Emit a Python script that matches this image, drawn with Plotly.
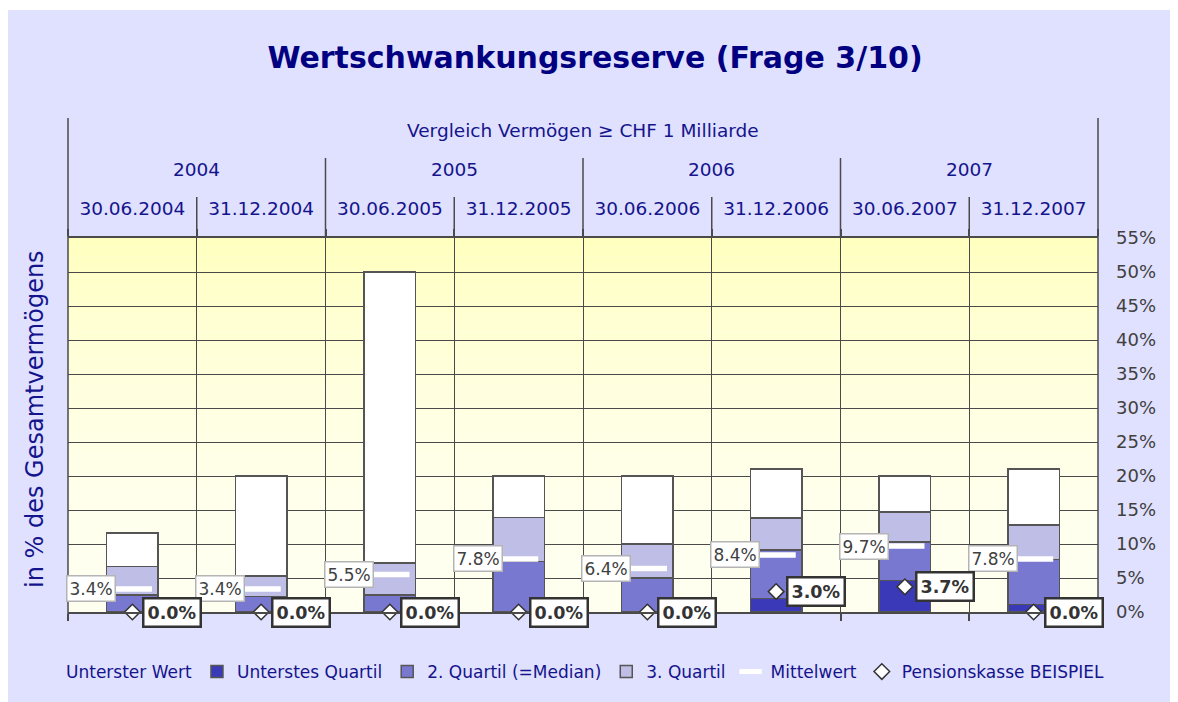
import plotly.graph_objects as go

# ---------------- data ----------------
categories = ["30.06.2004", "31.12.2004", "30.06.2005", "31.12.2005",
              "30.06.2006", "31.12.2006", "30.06.2007", "31.12.2007"]
years = ["2004", "2005", "2006", "2007"]
minimum = [0.0, 0.0, 0.0, 0.0, 0.0, 0.0, 0.0, 0.0]
q1 = [0.0, 0.0, 0.0, 0.0, 0.0, 2.0, 4.6, 1.1]
median = [2.5, 2.3, 2.5, 7.4, 5.0, 9.1, 10.3, 7.7]
q3 = [6.7, 5.3, 7.2, 13.9, 10.0, 13.8, 14.7, 12.8]
maximum = [11.6, 20.0, 50.0, 20.0, 20.0, 21.0, 20.0, 21.0]
mean = [3.4, 3.4, 5.5, 7.8, 6.4, 8.4, 9.7, 7.8]
beispiel = [0.0, 0.0, 0.0, 0.0, 0.0, 3.0, 3.7, 0.0]
y_tick_values = [0, 5, 10, 15, 20, 25, 30, 35, 40, 45, 50, 55]
y_tick_labels = ["0%", "5%", "10%", "15%", "20%", "25%", "30%", "35%", "40%", "45%", "50%", "55%"]

# ---------------- styles ----------------
OFF = 8                      # page body margin of the browser
W, H = 1178 - OFF, 702 - OFF
ML, MT = 68 - OFF, 238 - OFF
PW, PH = 1030, 374
MR, MB = W - ML - PW, H - MT - PH
FONT = "DejaVu Sans"
NAVY = "#14148C"
TITLE_NAVY = "#000080"
GRID = "#4a4a4a"
OUTLINE = "#555555"
LAVENDER = "#E0E0FF"

def py(ref_y):   # reference pixel y -> paper y
    return (612 - ref_y) / PH

def pxx(ref_x):  # reference pixel x -> paper x
    return (ref_x - 68) / PW

seg_q1 = [a - b for a, b in zip(q1, minimum)]
seg_med = [a - b for a, b in zip(median, q1)]
seg_q3 = [a - b for a, b in zip(q3, median)]
seg_top = [a - b for a, b in zip(maximum, q3)]

fig = go.Figure()
bar_w = 0.4
fig.add_trace(go.Bar(x=categories, y=minimum, name="Unterster Wert", width=bar_w,
                     marker=dict(color="rgba(0,0,0,0)", line=dict(width=0))))
fig.add_trace(go.Bar(x=categories, y=seg_q1, name="Unterstes Quartil", width=bar_w,
                     marker=dict(color="#3A3AB8", line=dict(color=OUTLINE, width=1.5))))
fig.add_trace(go.Bar(x=categories, y=seg_med, name="2. Quartil (=Median)", width=bar_w,
                     marker=dict(color="#7878D0", line=dict(color=OUTLINE, width=1.5))))
fig.add_trace(go.Bar(x=categories, y=seg_q3, name="3. Quartil", width=bar_w,
                     marker=dict(color="#BEBEE6", line=dict(color=OUTLINE, width=1.5))))
fig.add_trace(go.Bar(x=categories, y=seg_top, name="Oberstes Quartil", width=bar_w,
                     showlegend=False,
                     marker=dict(color="#FFFFFF", line=dict(color=OUTLINE, width=1.5))))
fig.add_trace(go.Scatter(x=categories, y=mean, name="Mittelwert", mode="markers",
                         marker=dict(symbol="line-ew", size=28,
                                     line=dict(color="#FFFFFF", width=5.5))))
fig.add_trace(go.Scatter(x=categories, y=beispiel, name="Pensionskasse BEISPIEL", mode="markers",
                         cliponaxis=False,
                         marker=dict(symbol="diamond", size=12, color="#FFFFFF",
                                     line=dict(color="#333333", width=1.5))))

annotations = []
for c, m in zip(categories, mean):
    annotations.append(dict(x=c, y=m, xref="x", yref="y", text=f"{m:.1f}%", showarrow=False,
                            xshift=-41, yanchor="middle",
                            font=dict(family=FONT, size=17, color="#404040"),
                            bgcolor="#FFFFFF", bordercolor="#B4B4B4", borderwidth=1.5, borderpad=2))
for c, b in zip(categories, beispiel):
    annotations.append(dict(x=c, y=b, xref="x", yref="y", text=f"<b>{b:.1f}%</b>", showarrow=False,
                            xshift=40, yanchor="middle",
                            font=dict(family=FONT, size=17.5, color="#333333"),
                            bgcolor="#FFFFFF", bordercolor="#333333", borderwidth=2.5, borderpad=3))
# header texts
annotations.append(dict(x=0.5, y=py(131), xref="paper", yref="paper", showarrow=False,
                        xanchor="center", yanchor="middle",
                        text="Vergleich Vermögen ≥ CHF 1 Milliarde",
                        font=dict(family=FONT, size=18.5, color=NAVY)))
for i, yr in enumerate(years):
    annotations.append(dict(x=2 * i + 0.5, y=py(170), xref="x", yref="paper", showarrow=False,
                            xanchor="center", yanchor="middle",
                            text=yr, font=dict(family=FONT, size=18.5, color=NAVY)))
annotations.append(dict(x=pxx(35), y=py(419), xref="paper", yref="paper", showarrow=False,
                        xanchor="center", yanchor="middle",
                        text="in % des Gesamtvermögens", textangle=-90,
                        font=dict(family=FONT, size=24, color=NAVY)))

shapes = []
# background gradient in plot area
N = 40
for i in range(N):
    t = (i + 0.5) / N
    b = int(round(240 - 50 * t ** 2))
    shapes.append(dict(type="rect", xref="paper", yref="paper", x0=0, x1=1,
                       y0=i / N, y1=(i + 1) / N, layer="below",
                       fillcolor=f"rgb(255,255,{b})", line=dict(width=0)))
# white outer margin at top
shapes.append(dict(type="rect", xref="paper", yref="paper", x0=pxx(-20), x1=pxx(1200),
                   y0=py(10), y1=py(-10), fillcolor="#FFFFFF", line=dict(width=0), layer="below"))
# header separator lines
line_style = dict(color=GRID, width=1.5)
shapes.append(dict(type="line", xref="paper", yref="paper", x0=0, x1=0, y0=py(619), y1=py(118), line=line_style))
shapes.append(dict(type="line", xref="paper", yref="paper", x0=1, x1=1, y0=0, y1=py(118), line=line_style))
for xb in [1.5, 3.5, 5.5]:
    shapes.append(dict(type="line", xref="x", yref="paper", x0=xb, x1=xb, y0=1, y1=py(158), line=line_style))
for xb in [0.5, 2.5, 4.5, 6.5]:
    shapes.append(dict(type="line", xref="x", yref="paper", x0=xb, x1=xb, y0=1, y1=py(197), line=line_style))

fig.update_layout(
    width=W, height=H,
    margin=dict(l=ML, r=MR, t=MT, b=MB),
    paper_bgcolor=LAVENDER,
    plot_bgcolor="rgb(255,255,240)",
    barmode="stack",
    font=dict(family=FONT, color=NAVY),
    title=dict(text="<b>Wertschwankungsreserve (Frage 3/10)</b>", x=(595 - OFF) / W, xref="container",
               y=1 - (57 - OFF) / H, yref="container", xanchor="center", yanchor="middle",
               font=dict(family=FONT, size=30, color=TITLE_NAVY)),
    xaxis=dict(type="category", categoryorder="array", categoryarray=categories,
               range=[-0.5, 7.5], side="top", tickson="boundaries",
               ticks="outside", ticklen=7, tickcolor=GRID, tickwidth=1.5,
               showline=True, mirror="ticks", linecolor=GRID, linewidth=1.5,
               showgrid=True, gridcolor=GRID, gridwidth=1,
               ticklabelstandoff=14,
               tickfont=dict(family=FONT, size=18.5, color=NAVY)),
    yaxis=dict(range=[0, 55], tickmode="array", tickvals=y_tick_values, ticktext=y_tick_labels,
               side="right", showgrid=True, gridcolor=GRID, gridwidth=1, zeroline=False,
               showline=False, ticks="", ticklabelstandoff=17,
               tickfont=dict(family=FONT, size=18, color="#404040")),
    legend=dict(orientation="h", x=pxx(26), xanchor="left", y=py(672), yanchor="middle",
                traceorder="normal", bgcolor="rgba(0,0,0,0)",
                font=dict(family=FONT, size=17, color=NAVY)),
    annotations=annotations,
    shapes=shapes,
    showlegend=True,
)

fig.write_html("out.html")
